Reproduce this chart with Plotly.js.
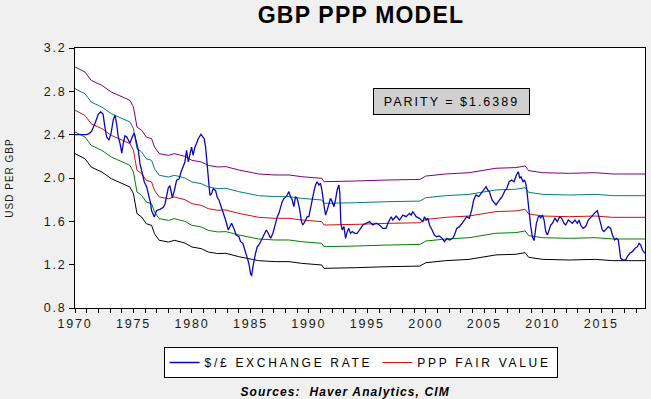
<!DOCTYPE html>
<html>
<head>
<meta charset="utf-8">
<script src="https://cdn.plot.ly/plotly-3.0.1.min.js"></script>
<style>
html,body{margin:0;padding:0;background:#f0f0f0;}
#chart{width:651px;height:399px;}
.gtitle{letter-spacing:1.2px;}
.xtick text,.ytick text{letter-spacing:1.8px;}
.ytitle{letter-spacing:1px;}
.legendtext{letter-spacing:2.7px;}
</style>
</head>
<body>
<div id="chart"></div>
<script>
// PPP fair value
const FV_YEARS = [1970.0,1970.85,1971.4,1972.3,1973.1,1974.0,1974.7,1975.0,1975.3,1975.7,1976.1,1976.55,1976.8,1977.2,1978.0,1978.5,1979.4,1980.0,1980.8,1981.4,1982.2,1982.9,1984.0,1985.16,1985.7,1987.1,1988.3,1989.4,1991.1,1991.3,1992.9,1994.0,1996.6,1999.5,2000.0,2001.7,2003.7,2005.2,2006.0,2007.7,2008.5,2008.8,2010.0,2012.3,2014.5,2016.0,2018.75];
const FV_VALUES = [2.625,2.578,2.50,2.455,2.394,2.354,2.317,2.255,2.071,2.04,1.978,1.963,1.886,1.825,1.809,1.825,1.80,1.763,1.748,1.717,1.702,1.705,1.674,1.649,1.637,1.628,1.628,1.612,1.597,1.566,1.566,1.572,1.581,1.587,1.618,1.637,1.649,1.674,1.69,1.696,1.711,1.668,1.649,1.643,1.649,1.637,1.637];

// Standard-deviation bands around fair value (offsets)
const BAND_OFFSETS = [0.4, 0.2, -0.2, -0.4];
const BAND_COLORS = ['#800080', '#008080', '#008000', '#000000'];

// $/£ exchange rate
const FX_YEARS = [1970.0,1971.0,1971.2,1971.42,1971.7,1972.0,1972.2,1972.4,1972.56,1972.7,1972.9,1973.08,1973.28,1973.42,1973.56,1973.7,1973.85,1974.0,1974.13,1974.27,1974.42,1974.56,1974.7,1974.9,1975.07,1975.21,1975.41,1975.56,1975.75,1975.93,1976.13,1976.27,1976.44,1976.55,1976.7,1976.78,1976.98,1977.26,1977.55,1977.7,1977.98,1978.12,1978.32,1978.49,1978.69,1978.89,1979.12,1979.4,1979.54,1979.69,1979.83,1979.97,1980.1,1980.26,1980.4,1980.54,1980.77,1980.91,1981.05,1981.17,1981.28,1981.4,1981.54,1981.68,1981.82,1982.02,1982.17,1982.31,1982.6,1982.88,1983.11,1983.22,1983.39,1983.59,1983.79,1984.02,1984.16,1984.36,1984.53,1984.65,1984.76,1984.87,1985.01,1985.1,1985.22,1985.33,1985.44,1985.59,1985.73,1985.87,1986.01,1986.24,1986.36,1986.53,1986.73,1986.93,1987.1,1987.3,1987.44,1987.58,1987.72,1987.87,1988.01,1988.15,1988.29,1988.43,1988.58,1988.72,1988.86,1989.0,1989.2,1989.37,1989.49,1989.66,1989.86,1990.0,1990.14,1990.29,1990.43,1990.57,1990.71,1990.86,1991.0,1991.14,1991.29,1991.43,1991.57,1991.71,1991.85,1991.99,1992.14,1992.28,1992.42,1992.57,1992.65,1992.74,1992.85,1993.0,1993.14,1993.28,1993.42,1993.56,1993.71,1993.93,1994.13,1994.33,1994.62,1994.9,1995.19,1995.47,1995.76,1996.04,1996.33,1996.61,1996.76,1997.04,1997.18,1997.47,1997.75,1998.04,1998.32,1998.61,1998.75,1998.89,1999.18,1999.46,1999.75,1999.89,2000.03,2000.18,2000.32,2000.54,2000.74,2000.94,2001.17,2001.4,2001.6,2001.8,2002.03,2002.31,2002.45,2002.65,2002.88,2003.11,2003.31,2003.51,2003.73,2003.93,2004.1,2004.3,2004.53,2004.73,2004.93,2005.16,2005.3,2005.44,2005.67,2005.87,2006.01,2006.3,2006.53,2006.8,2006.9,2007.13,2007.35,2007.55,2007.75,2007.92,2008.04,2008.15,2008.32,2008.44,2008.55,2008.64,2008.72,2008.83,2008.98,2009.12,2009.26,2009.35,2009.46,2009.63,2009.75,2009.83,2009.98,2010.12,2010.26,2010.4,2010.54,2010.69,2010.83,2011.05,2011.25,2011.45,2011.62,2011.82,2011.97,2012.19,2012.39,2012.53,2012.76,2012.96,2013.11,2013.25,2013.45,2013.68,2013.9,2014.11,2014.3,2014.48,2014.67,2014.82,2014.96,2015.1,2015.24,2015.44,2015.61,2015.81,2015.96,2016.16,2016.3,2016.47,2016.58,2016.67,2016.87,2017.1,2017.24,2017.44,2017.67,2017.9,2018.1,2018.24,2018.38,2018.53,2018.75];
const FX_VALUES = [2.40,2.40,2.41,2.43,2.50,2.59,2.61,2.59,2.47,2.38,2.35,2.41,2.54,2.58,2.50,2.38,2.32,2.23,2.32,2.39,2.38,2.35,2.32,2.38,2.415,2.35,2.26,2.13,2.04,1.963,1.917,1.855,1.78,1.70,1.655,1.64,1.70,1.71,1.73,1.76,1.91,1.93,1.82,1.88,1.98,1.99,2.07,2.148,2.255,2.148,2.22,2.286,2.21,2.286,2.32,2.363,2.403,2.38,2.363,2.286,2.163,1.978,1.84,1.855,1.90,1.886,1.82,1.797,1.705,1.612,1.52,1.551,1.582,1.535,1.474,1.458,1.412,1.397,1.335,1.274,1.258,1.212,1.12,1.095,1.182,1.258,1.305,1.366,1.382,1.412,1.443,1.505,1.52,1.49,1.443,1.49,1.566,1.643,1.674,1.735,1.782,1.812,1.822,1.843,1.874,1.828,1.797,1.735,1.828,1.812,1.72,1.597,1.566,1.597,1.643,1.643,1.705,1.797,1.874,1.935,1.966,1.935,1.951,1.874,1.751,1.658,1.705,1.766,1.812,1.782,1.735,1.797,1.889,1.935,1.858,1.582,1.52,1.551,1.443,1.505,1.535,1.489,1.505,1.489,1.489,1.52,1.566,1.582,1.597,1.566,1.582,1.566,1.535,1.535,1.582,1.643,1.612,1.649,1.612,1.658,1.643,1.674,1.658,1.689,1.643,1.628,1.597,1.643,1.612,1.628,1.566,1.52,1.474,1.458,1.465,1.443,1.412,1.443,1.428,1.443,1.474,1.535,1.551,1.582,1.612,1.643,1.628,1.705,1.797,1.843,1.828,1.858,1.889,1.92,1.889,1.874,1.797,1.766,1.751,1.797,1.828,1.889,1.895,1.966,1.982,1.966,2.028,2.058,1.997,2.012,1.966,1.982,1.951,1.889,1.797,1.674,1.551,1.458,1.422,1.489,1.582,1.643,1.649,1.628,1.658,1.612,1.505,1.474,1.52,1.566,1.582,1.628,1.597,1.643,1.628,1.582,1.566,1.612,1.597,1.582,1.612,1.582,1.612,1.566,1.535,1.551,1.612,1.637,1.668,1.68,1.699,1.628,1.566,1.52,1.505,1.535,1.551,1.535,1.474,1.428,1.443,1.428,1.335,1.258,1.243,1.243,1.274,1.305,1.32,1.351,1.366,1.397,1.382,1.335,1.305,1.298];

const X_TICKS = [1970,1975,1980,1985,1990,1995,2000,2005,2010,2015];
const Y_TICKS = [0.8,1.2,1.6,2.0,2.4,2.8,3.2];
const PARITY = 1.6389;

const FONT = '"Liberation Sans", Arial, Helvetica, sans-serif';

const traces = [];
BAND_OFFSETS.forEach((off, i) => {
  traces.push({
    x: FV_YEARS, y: FV_VALUES.map(v => v + off),
    type: 'scatter', mode: 'lines', showlegend: false, hoverinfo: 'skip',
    line: {color: BAND_COLORS[i], width: 1}
  });
});
traces.push({
  x: FV_YEARS, y: FV_VALUES, name: 'PPP FAIR VALUE',
  type: 'scatter', mode: 'lines', legendrank: 2,
  line: {color: '#d01010', width: 1}
});
traces.push({
  x: FX_YEARS, y: FX_VALUES, name: '$/£ EXCHANGE RATE',
  type: 'scatter', mode: 'lines', legendrank: 1,
  line: {color: '#0a0ab4', width: 1.3}
});

const layout = {
  width: 651, height: 399,
  margin: {l: 75, r: 6, t: 48, b: 91},
  paper_bgcolor: '#f0f0f0', plot_bgcolor: '#ffffff',
  font: {family: FONT, size: 12, color: '#1a1a1a'},
  title: {text: '<b>GBP PPP MODEL</b>', x: 0.5545, xanchor: 'center', y: 0.962, yanchor: 'middle',
          font: {family: FONT, size: 23, color: '#000000'}},
  xaxis: {
    range: [1970, 2018.75], tickvals: X_TICKS, ticktext: X_TICKS.map(String),
    ticks: 'outside', ticklen: 4, tickcolor: '#000', tickwidth: 1,
    minor: {dtick: 1, tick0: 1970, ticks: 'outside', ticklen: 4, tickcolor: '#000', showgrid: false},
    showline: true, linecolor: '#000', linewidth: 1, mirror: true,
    showgrid: false, zeroline: false, tickfont: {size: 12.5}
  },
  yaxis: {
    range: [0.8, 3.2], tickvals: Y_TICKS, ticktext: Y_TICKS.map(v => v.toFixed(1)),
    ticks: 'outside', ticklen: 5, tickcolor: '#000', tickwidth: 1,
    showline: true, linecolor: '#000', linewidth: 1, mirror: true,
    showgrid: false, zeroline: false, tickfont: {size: 12.5},
    title: {text: 'USD PER GBP', font: {size: 10, color: '#1a1a1a'}, standoff: 28}
  },
  legend: {
    orientation: 'h', x: 0.501, xanchor: 'center', y: -0.15, yanchor: 'top',
    bgcolor: '#ffffff', bordercolor: '#000', borderwidth: 1,
    font: {size: 12, color: '#000'}, traceorder: 'normal', itemwidth: 30
  },
  annotations: [
    {
      xref: 'paper', yref: 'paper', x: 0.6605, y: 0.794, xanchor: 'center', yanchor: 'middle',
      text: 'PARITY = $' + PARITY.toFixed(4), showarrow: false,
      font: {family: FONT, size: 12.5, color: '#000'},
      bgcolor: '#d0d0d0', bordercolor: '#000', borderwidth: 1, borderpad: 0,
      width: 155, height: 25
    },
    {
      xref: 'paper', yref: 'paper', x: 0.4737, y: -0.323, xanchor: 'center', yanchor: 'middle',
      text: '<b><i>Sources:  Haver Analytics, CIM</i></b>', showarrow: false,
      font: {family: FONT, size: 12, color: '#000'}
    }
  ]
};

Plotly.newPlot('chart', traces, layout, {displayModeBar: false, staticPlot: true}).then(() => {
  document.querySelectorAll('.annotation-text').forEach(el => {
    if (el.textContent.indexOf('PARITY') === 0) el.style.letterSpacing = '2px';
    else el.style.letterSpacing = '1.1px';
  });
});
</script>
</body>
</html>
